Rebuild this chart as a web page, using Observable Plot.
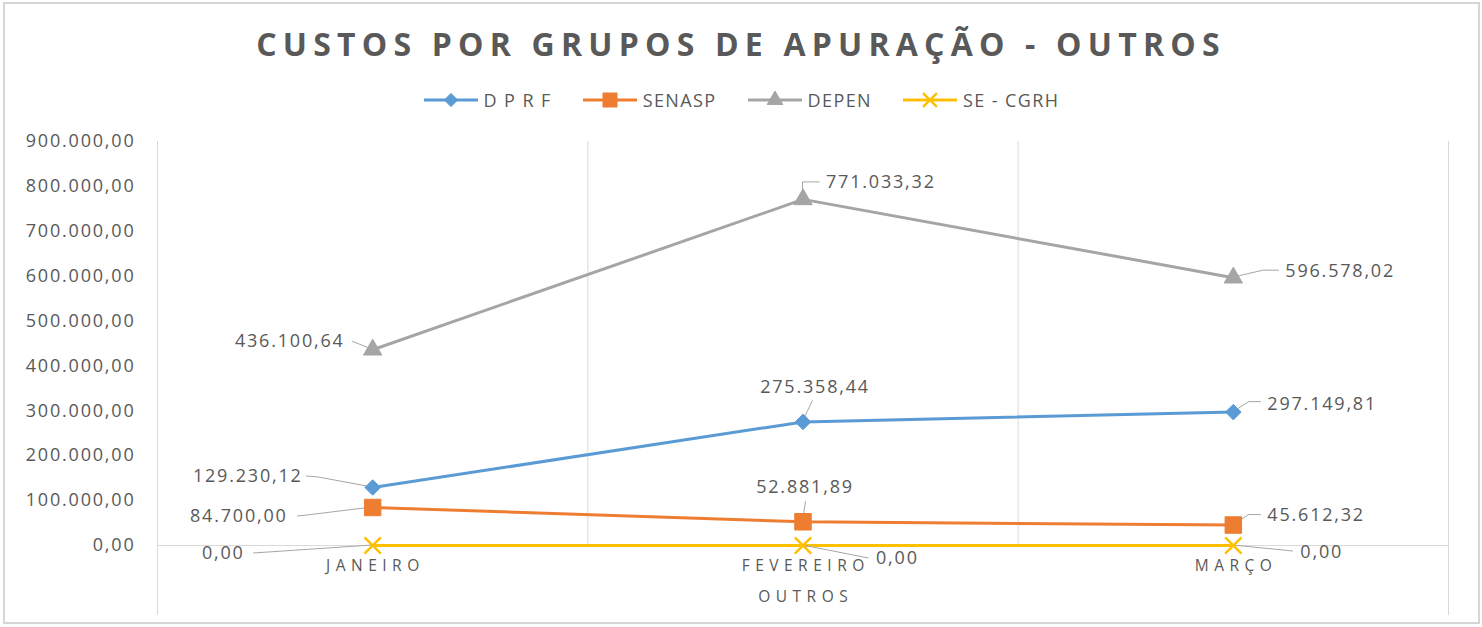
<!DOCTYPE html>
<html>
<head>
<meta charset="utf-8">
<script src="https://cdn.jsdelivr.net/npm/d3@7"></script>
<script src="https://cdn.jsdelivr.net/npm/@observablehq/plot@0.6"></script>
<style>
  html, body { margin: 0; padding: 0; background: #ffffff; }
  body { width: 1482px; height: 627px; position: relative; overflow: hidden; font-family: "Open Sans", sans-serif; }
  #frame { position: absolute; left: 3px; top: 2px; width: 1473px; height: 618px; border: 2px solid #d6d6d6; box-sizing: content-box; }
  #title { position: absolute; left: 0; top: 22px; width: 1482px; text-align: center; font-size: 32px; font-weight: 700; color: #595959; letter-spacing: 6.2px; line-height: 44px; }
  #legend { position: absolute; left: 0; top: 88px; width: 1482px; display: flex; justify-content: center; align-items: center; gap: 30px; font-size: 18px; color: #595959; letter-spacing: 1.4px; }
  .item { display: flex; align-items: center; gap: 5px; }
  #chart { position: absolute; left: 0; top: 120px; }
</style>
</head>
<body>
<div id="frame"></div>
<div id="title">CUSTOS POR GRUPOS DE APURAÇÃO - OUTROS</div>
<div id="legend"></div>
<div id="chart"></div>
<script>
// ---- data ----
const months = ["JANEIRO", "FEVEREIRO", "MARÇO"];
const seriesNames = ["D P R F", "SENASP", "DEPEN", "SE - CGRH"];
const dprf = [129230.12, 275358.44, 297149.81];
const senasp = [84700.00, 52881.89, 45612.32];
const depen = [436100.64, 771033.32, 596578.02];
const seCgrh = [0.00, 0.00, 0.00];
const yTicks = [0, 100000, 200000, 300000, 400000, 500000, 600000, 700000, 800000, 900000];
const xTitle = "OUTROS";

// ---- styles ----
const seriesValues = [dprf, senasp, depen, seCgrh];
const colors = ["#5B9BD5", "#ED7D31", "#A5A5A5", "#FFC000"];
const symbols = ["diamond2", "square", "triangle", "times"];
const radii = [7, 9.3, 6.8, 7.5];
const filled = [true, true, true, false];

// label placement: [dx, dy, anchor] relative to the point, and leader polyline in px
const labelLayout = [
  [ // D P R F
    {dx: -70, dy: -11, anchor: "end", leader: [[0,0],[-54,-10],[-66,-11]]},
    {dx: 12, dy: -35, anchor: "middle", leader: [[0,0],[10,-21]]},
    {dx: 34, dy: -8, anchor: "start", leader: [[0,0],[16,-10],[28,-10]]}
  ],
  [ // SENASP
    {dx: -85, dy: 9, anchor: "end", leader: [[0,0],[-65,8],[-75,9]]},
    {dx: 2, dy: -35, anchor: "middle", leader: [[0,0],[3,-20]]},
    {dx: 34, dy: -10, anchor: "start", leader: [[0,0],[16,-10],[28,-10]]}
  ],
  [ // DEPEN
    {dx: -28, dy: -9, anchor: "end", leader: [[0,0],[-20,-8]]},
    {dx: 23, dy: -17, anchor: "start", leader: [[0,0],[0,-17],[17,-17]]},
    {dx: 52, dy: -6, anchor: "start", leader: [[0,0],[30,-7],[46,-7]]}
  ],
  [ // SE - CGRH
    {dx: -128, dy: 8, anchor: "end", leader: [[0,0],[-119,8]]},
    {dx: 73, dy: 13, anchor: "start", leader: [[0,0],[66,13]]},
    {dx: 67, dy: 7, anchor: "start", leader: [[0,0],[60,6]]}
  ]
];

const ptBR = d3.formatLocale({decimal: ",", thousands: ".", grouping: [3], currency: ["R$ ", ""]});
const fmt = ptBR.format(",.2f");

const table = seriesNames.flatMap((s, k) => months.map((m, i) => ({series: s, k, i, month: m, value: seriesValues[k][i]})));

// ---- legend ----
const legend = d3.select("#legend");
seriesNames.forEach((s, k) => {
  const item = legend.append("div").attr("class", "item");
  const sw = item.append("svg").attr("width", 56).attr("height", 20);
  sw.append("line").attr("x1", 1).attr("x2", 55).attr("y1", 10).attr("y2", 10)
    .attr("stroke", colors[k]).attr("stroke-width", 3);
  const symMap = {diamond2: d3.symbolDiamond2, square: d3.symbolSquare, triangle: d3.symbolTriangle, times: d3.symbolTimes};
  const size = Math.PI * Math.pow(radii[k] * 0.85, 2);
  sw.append("path").attr("transform", "translate(28,10)")
    .attr("d", d3.symbol(symMap[symbols[k]], size)())
    .attr("fill", filled[k] ? colors[k] : "none")
    .attr("stroke", colors[k]).attr("stroke-width", filled[k] ? 1 : 2.5);
  item.append("span").text(s);
});

// ---- chart ----
const boundaries = d3.range(months.length + 1).map(i => i - 0.5);
const innerBounds = boundaries.slice(1, -1);
const edgeBounds = [boundaries[0], boundaries[boundaries.length - 1]];

function leaderMark(index, scales) {
  const g = d3.create("svg:g").attr("fill", "none").attr("stroke", "#a6a6a6").attr("stroke-width", 1);
  table.forEach(d => {
    const L = labelLayout[d.k][d.i];
    const px = scales.x(d.i), py = scales.y(d.value);
    g.append("path").attr("d", "M" + L.leader.map(p => (px + p[0]) + "," + (py + p[1])).join("L"));
  });
  return g.node();
}

const marks = [
  Plot.ruleX(innerBounds, {stroke: "#d9d9d9", strokeWidth: 1}),
  Plot.ruleX(edgeBounds, {stroke: "#d9d9d9", strokeWidth: 1, insetBottom: -70}),
  Plot.ruleY([0], {stroke: "#d9d9d9", strokeWidth: 1}),
  Plot.axisY({ticks: yTicks, tickFormat: fmt, tickSize: 0, tickPadding: 22, color: "#595959", fontSize: 18, label: null}),
  Plot.axisX({ticks: d3.range(months.length), tickFormat: i => months[i], tickSize: 0, tickPadding: 14, color: "#595959", fontSize: 15.5, dx: 2.7, label: null}),
  Plot.text([xTitle], {x: () => (months.length - 1) / 2, text: d => d, frameAnchor: "bottom", dy: 56, dx: 2.7, fill: "#595959", fontSize: 15.5, className: "xtitle"})
];

seriesNames.forEach((s, k) => {
  marks.push(Plot.line(table.filter(d => d.k === k), {x: "i", y: "value", stroke: colors[k], strokeWidth: 3, strokeLinejoin: "round"}));
});
marks.push(leaderMark);
seriesNames.forEach((s, k) => {
  marks.push(Plot.dot(table.filter(d => d.k === k), {
    x: "i", y: "value", symbol: symbols[k], r: radii[k],
    fill: filled[k] ? colors[k] : "none", stroke: colors[k], strokeWidth: filled[k] ? 1 : 2.5
  }));
});
table.forEach(d => {
  const L = labelLayout[d.k][d.i];
  marks.push(Plot.text([d], {x: "i", y: "value", text: r => fmt(r.value), dx: L.dx, dy: L.dy, textAnchor: L.anchor, fill: "#595959", fontSize: 18}));
});

const svg = Plot.plot({
  width: 1482,
  height: 500,
  marginTop: 21,
  marginBottom: 75,
  marginLeft: 157,
  marginRight: 34,
  x: {type: "linear", domain: [-0.5, months.length - 0.5], label: null},
  y: {domain: [0, 900000], label: null},
  style: {fontFamily: "'Open Sans', sans-serif", background: "transparent", letterSpacing: "1.8px", overflow: "visible"},
  marks
});

d3.select(svg).selectAll('[aria-label="x-axis tick label"] text').style("letter-spacing", "5.5px");
d3.select(svg).selectAll('g.xtitle text').style("letter-spacing", "5.5px");
document.getElementById("chart").appendChild(svg);
</script>
</body>
</html>
